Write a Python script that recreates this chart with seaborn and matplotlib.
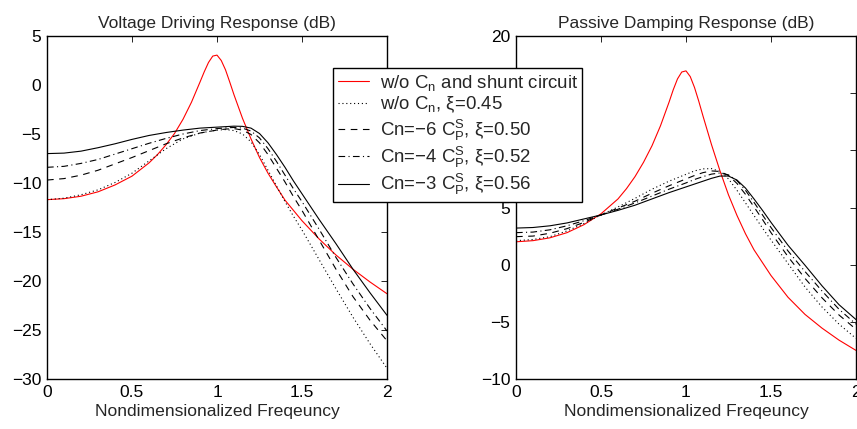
import numpy as np
import pandas as pd
import matplotlib
matplotlib.use("Agg")
import matplotlib.pyplot as plt
import seaborn as sns

# ---------------- data ----------------
x_red = [0, 0.1, 0.2, 0.3, 0.4, 0.5, 0.6, 0.65, 0.7, 0.75, 0.8, 0.85, 0.9, 0.925, 0.95,
         0.975, 1.0, 1.025, 1.05, 1.075, 1.1, 1.15, 1.2, 1.25, 1.3, 1.35, 1.4, 1.5, 1.6,
         1.7, 1.8, 1.9, 2.0]
x_blk = [0, 0.1, 0.2, 0.3, 0.4, 0.5, 0.6, 0.7, 0.8, 0.9, 1.0, 1.05, 1.1, 1.15, 1.2, 1.25,
         1.3, 1.35, 1.4, 1.45, 1.5, 1.6, 1.7, 1.8, 1.9, 2.0]

# Voltage driving response (dB)
vd_red = [-11.7, -11.6, -11.35, -10.9, -10.2, -9.3, -7.95, -7.1, -6.1, -4.95, -3.5, -1.75,
          0.3, 1.35, 2.3, 2.95, 3.05, 2.5, 1.55, 0.3, -1.0, -3.4, -5.5, -7.4, -9.0, -10.4,
          -11.75, -13.85, -15.7, -17.35, -18.8, -20.1, -21.3]
vd_xi45 = [-11.7, -11.55, -11.2, -10.7, -9.95, -9.0, -7.75, -6.5, -5.5, -4.9, -4.6, -4.55,
           -4.65, -5.0, -5.8, -7.1, -8.7, -10.3, -11.9, -13.4, -14.8, -17.8, -20.8, -23.7,
           -26.4, -28.9]
vd_cn6 = [-9.7, -9.55, -9.2, -8.7, -8.05, -7.4, -6.7, -6.0, -5.4, -4.9, -4.6, -4.5, -4.45,
          -4.6, -5.05, -5.9, -7.1, -8.5, -9.9, -11.4, -12.8, -15.8, -18.8, -21.6, -24.0,
          -26.1]
vd_cn4 = [-8.4, -8.3, -8.0, -7.6, -7.05, -6.5, -5.95, -5.45, -5.0, -4.65, -4.45, -4.38,
          -4.33, -4.4, -4.7, -5.4, -6.5, -7.8, -9.2, -10.6, -11.9, -14.7, -17.6, -20.3,
          -22.8, -25.1]
vd_cn3 = [-7.0, -6.95, -6.75, -6.4, -6.0, -5.55, -5.15, -4.85, -4.6, -4.4, -4.3, -4.25,
          -4.2, -4.22, -4.4, -4.95, -5.9, -7.1, -8.4, -9.8, -11.1, -13.7, -16.2, -18.8,
          -21.2, -23.5]

# Passive damping response (dB)
pd_red = [2.0, 2.1, 2.35, 2.8, 3.5, 4.45, 5.75, 6.65, 7.7, 8.95, 10.4, 12.15, 14.2, 15.3,
          16.25, 16.85, 16.95, 16.45, 15.5, 14.3, 13.0, 10.5, 8.2, 6.1, 4.3, 2.7, 1.3,
          -0.95, -2.85, -4.35, -5.55, -6.6, -7.5]
pd_xi45 = [2.1, 2.2, 2.45, 2.95, 3.6, 4.35, 5.05, 5.8, 6.6, 7.3, 7.9, 8.2, 8.38, 8.4, 8.15,
           7.5, 6.5, 5.4, 4.3, 3.2, 2.15, 0.1, -1.95, -3.7, -5.2, -6.45]
pd_cn6 = [2.45, 2.5, 2.75, 3.15, 3.7, 4.35, 4.95, 5.55, 6.25, 6.9, 7.5, 7.8, 8.05, 8.2,
          8.15, 7.8, 7.1, 6.15, 5.05, 3.95, 2.8, 0.7, -1.2, -2.9, -4.4, -5.65]
pd_cn4 = [2.8, 2.85, 3.05, 3.4, 3.85, 4.35, 4.85, 5.4, 6.0, 6.6, 7.15, 7.45, 7.7, 7.92,
          8.02, 7.85, 7.35, 6.5, 5.45, 4.35, 3.25, 1.2, -0.6, -2.3, -3.9, -5.2]
pd_cn3 = [3.2, 3.25, 3.4, 3.65, 4.0, 4.35, 4.75, 5.2, 5.75, 6.3, 6.8, 7.05, 7.3, 7.55, 7.75,
          7.75, 7.4, 6.7, 5.75, 4.75, 3.7, 1.7, -0.05, -1.85, -3.5, -4.8]

labels = [r"w/o C$_\mathrm{n}$ and shunt circuit",
          r"w/o C$_\mathrm{n}$, ξ=0.45",
          r"Cn=−6 C$_\mathrm{P}^\mathrm{S}$, ξ=0.50",
          r"Cn=−4 C$_\mathrm{P}^\mathrm{S}$, ξ=0.52",
          r"Cn=−3 C$_\mathrm{P}^\mathrm{S}$, ξ=0.56"]
titles = ["Voltage Driving Response (dB)", "Passive Damping Response (dB)"]
xlabel = "Nondimensionalized Freqeuncy"
xticks = [0, 0.5, 1, 1.5, 2]
xtick_labels = ["0", "0.5", "1", "1.5", "2"]
yticks_left = [-30, -25, -20, -15, -10, -5, 0, 5]
yticks_right = [-10, -5, 0, 5, 10, 15, 20]

# ---------------- style ----------------
sns.set_theme(style="white")
plt.rcParams["font.family"] = ["Liberation Sans", "DejaVu Sans"]
plt.rcParams["mathtext.fontset"] = "custom"
plt.rcParams["mathtext.rm"] = "Liberation Sans"
plt.rcParams["mathtext.it"] = "Liberation Sans:italic"
plt.rcParams["axes.unicode_minus"] = True

fig = plt.figure(figsize=(8.57, 4.29), dpi=100)
W, H = 857.0, 429.0
ax1 = fig.add_axes([47 / W, (H - 379) / H, 340 / W, 343 / H])
ax2 = fig.add_axes([516 / W, (H - 379) / H, 340 / W, 343 / H])

styles = [dict(color="red", linestyle="-"),
          dict(color="black", linestyle=(0, (1, 2.5))),
          dict(color="black", linestyle=(0, (6, 5))),
          dict(color="black", linestyle=(0, (6, 3, 1, 3))),
          dict(color="black", linestyle="-")]

def draw(ax, red, xi45, cn6, cn4, cn3):
    series = [(x_red, red), (x_blk, xi45), (x_blk, cn6), (x_blk, cn4), (x_blk, cn3)]
    for (xs, ys), st in zip(series, styles):
        df = pd.DataFrame({"x": xs, "y": ys})
        sns.lineplot(data=df, x="x", y="y", ax=ax, linewidth=0.8, legend=False,
                     sort=False, **st)

draw(ax1, vd_red, vd_xi45, vd_cn6, vd_cn4, vd_cn3)
draw(ax2, pd_red, pd_xi45, pd_cn6, pd_cn4, pd_cn3)

for ax, title, yt, ylim in [(ax1, titles[0], yticks_left, (-30, 5)),
                            (ax2, titles[1], yticks_right, (-10, 20))]:
    ax.set_xlim(0, 2)
    ax.set_ylim(*ylim)
    ax.set_xticks(xticks)
    ax.set_xticklabels(xtick_labels)
    ax.set_yticks(yt)
    ax.set_title(title, fontsize=12.5, pad=6)
    ax.set_xlabel(xlabel, fontsize=12.6, labelpad=3)
    ax.set_ylabel("")
    ax.tick_params(direction="in", length=4, width=0.6, top=True, right=True,
                   labelsize=12.5, pad=4, colors="black")
    for sp in ax.spines.values():
        sp.set_visible(True)
        sp.set_color("black")
        sp.set_linewidth(1.0)
    ax.set_facecolor("white")

handles = ax1.get_lines()[:5]
leg = fig.legend(handles, labels, loc="upper left",
                 bbox_to_anchor=(333 / W, 1 - 68 / H), frameon=True, fancybox=False,
                 framealpha=1, edgecolor="black", fontsize=13.4, handlelength=1.7,
                 handletextpad=0.55, borderpad=0.25, labelspacing=0.12,
                 borderaxespad=0)
leg.get_frame().set_linewidth(1.0)

fig.savefig("out.png", dpi=100, facecolor="white")
